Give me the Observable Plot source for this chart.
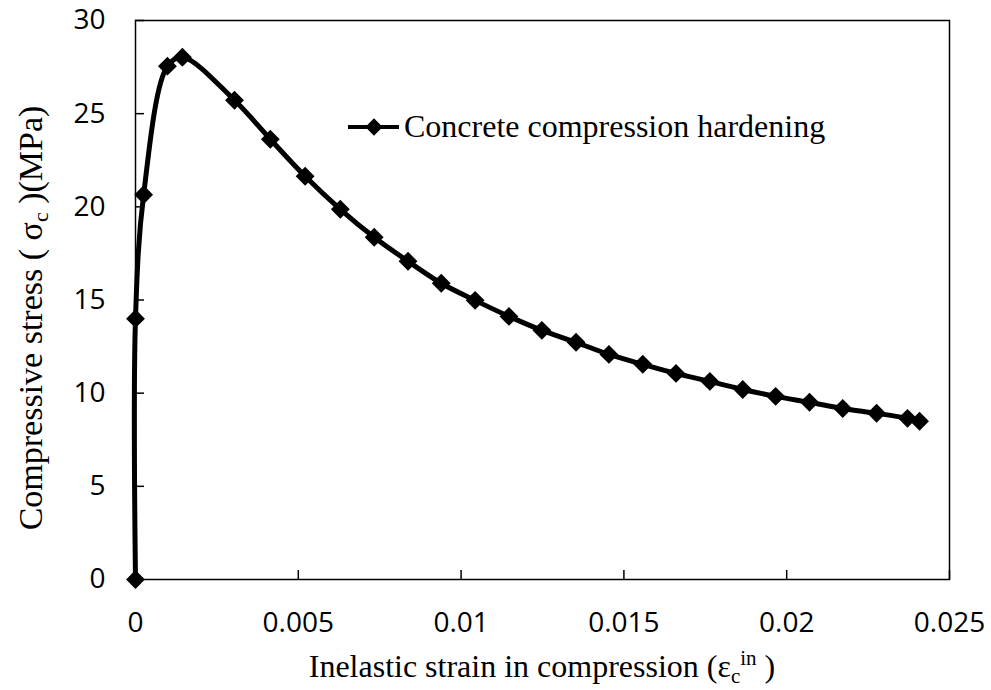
<!DOCTYPE html>
<html>
<head>
<meta charset="utf-8">
<script src="https://cdn.jsdelivr.net/npm/d3@7"></script>
<script src="https://cdn.jsdelivr.net/npm/@observablehq/plot@0.6"></script>
<style>
  html, body { margin: 0; padding: 0; background: #fff; }
</style>
</head>
<body>
<div id="chart"></div>
<script>
// Data
const strain = [0, 0, 0.00025, 0.00098, 0.00144, 0.00304, 0.00414, 0.00521, 0.00629, 0.00733,
  0.00837, 0.00939, 0.01043, 0.01147, 0.01248, 0.01353, 0.01454, 0.01558, 0.0166, 0.01764,
  0.01865, 0.01966, 0.0207, 0.02172, 0.02276, 0.02371, 0.02408];
const stress = [0, 14.0, 20.65, 27.55, 28.03, 25.72, 23.63, 21.64, 19.87, 18.37,
  17.08, 15.9, 14.98, 14.12, 13.37, 12.73, 12.08, 11.55, 11.06, 10.63,
  10.2, 9.83, 9.51, 9.18, 8.92, 8.65, 8.49];
const xTicks = [0, 0.005, 0.01, 0.015, 0.02, 0.025];
const yTicks = [0, 5, 10, 15, 20, 25, 30];
const seriesName = "Concrete compression hardening";

const data = strain.map((x, i) => ({x, y: stress[i]}));

const plot = Plot.plot({
  width: 991,
  height: 690,
  marginLeft: 135,
  marginRight: 42,
  marginTop: 20,
  marginBottom: 111,
  style: {fontFamily: "'Open Sans', sans-serif", fontSize: "28px", color: "black", background: "white", overflow: "visible"},
  x: {domain: [0, 0.025]},
  y: {domain: [0, 30]},
  marks: [
    Plot.frame({stroke: "black", strokeWidth: 1.5}),
    // tick labels
    Plot.axisX({ticks: xTicks, tickSize: 0, tickPadding: 33, tickFormat: d => String(d), label: null}),
    Plot.axisY({ticks: yTicks, tickSize: 0, tickPadding: 30, tickFormat: d => String(d), label: null}),
    // inward tick marks
    Plot.axisX({ticks: xTicks, tickSize: 9, dy: -9, text: null, label: null, strokeWidth: 1.5}),
    Plot.axisY({ticks: yTicks, tickSize: 9, dx: 9, text: null, label: null, strokeWidth: 1.5}),
    Plot.line(data, {x: "x", y: "y", curve: "catmull-rom", stroke: "black", strokeWidth: 5}),
    Plot.dot(data, {x: "x", y: "y", symbol: "diamond2", r: 8.5, fill: "black", stroke: "none"})
  ]
});

document.getElementById("chart").appendChild(plot);

const svg = d3.select(plot);
const serif = "'Liberation Serif', 'Times New Roman', serif";

// X axis title
const xt = svg.append("text")
  .attr("x", 542).attr("y", 677)
  .attr("text-anchor", "middle")
  .style("font-family", serif).style("font-size", "32px").attr("fill", "black");
xt.append("tspan").text("Inelastic strain in compression (ε");
xt.append("tspan").attr("dy", 6).style("font-size", "21px").text("c");
xt.append("tspan").attr("dy", -18).style("font-size", "21px").text("in");
xt.append("tspan").attr("dy", 12).text(" )");

// Y axis title
const yt = svg.append("text")
  .attr("transform", "translate(42,318) rotate(-90)")
  .attr("text-anchor", "middle")
  .style("font-family", serif).style("font-size", "34px").attr("fill", "black");
yt.append("tspan").text("Compressive stress ( σ");
yt.append("tspan").attr("dy", 6).style("font-size", "22px").text("c");
yt.append("tspan").attr("dy", -6).text(" )(MPa)");

// Legend
const lg = svg.append("g");
lg.append("line").attr("x1", 348).attr("x2", 399).attr("y1", 127).attr("y2", 127)
  .attr("stroke", "black").attr("stroke-width", 4);
lg.append("path").attr("transform", "translate(374,127)")
  .attr("d", d3.symbol(d3.symbolDiamond2, 190)()).attr("fill", "black");
lg.append("text").attr("x", 404).attr("y", 137)
  .attr("text-anchor", "start")
  .style("font-family", serif).style("font-size", "32px").attr("fill", "black")
  .text(seriesName);
</script>
</body>
</html>
